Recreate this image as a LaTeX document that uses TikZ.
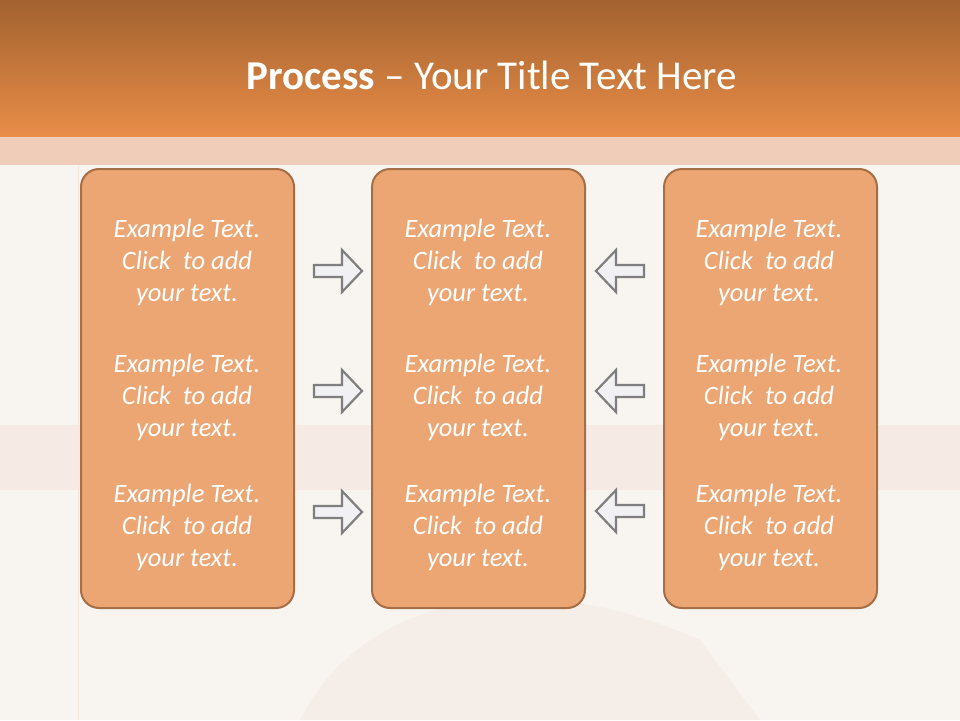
\documentclass[tikz,border=0pt]{standalone}
\usepackage{fontspec}
\setmainfont{Carlito}
\definecolor{cream}{HTML}{F8F4EF}
\definecolor{ribbon}{HTML}{F4E8E0}
\definecolor{titletop}{HTML}{A2622F}
\definecolor{titlebot}{HTML}{E98D48}
\definecolor{band}{HTML}{F0CDB8}
\definecolor{boxfill}{HTML}{ECA673}
\definecolor{boxline}{HTML}{A66E45}
\definecolor{arrfill}{HTML}{F1F1F4}
\definecolor{arrline}{HTML}{7F7F7F}
\tikzset{
  panel/.style={draw=boxline, line width=2pt, fill=boxfill, rounded corners=18pt,
    minimum width=213pt, minimum height=439pt, anchor=north west, inner sep=0pt},
  exampletext/.style={text=white, align=center, font=\fontsize{26.5}{32}\selectfont\itshape},
  arr/.style={draw=arrline, fill=arrfill, line width=2.2pt, line join=miter},
  blockarrow/.pic={\draw[arr] (0,-6) -- (28,-6) -- (28,-21) -- (48,0) -- (28,21) -- (28,6) -- (0,6) -- cycle;}
}
\begin{document}
\begin{tikzpicture}[x=1pt,y=-1pt]
\useasboundingbox (0,0) rectangle (960,720);
\fill[cream] (0,0) rectangle (960,720);
% faint background ribbons
\fill[ribbon, opacity=0.7] (0,425) rectangle (960,490);
\fill[ribbon, opacity=0.5] (300,720) .. controls (360,600) and (520,560) .. (700,640) -- (760,720) -- cycle;
\draw[ribbon, line width=1pt] (78,165) -- (78,720);
% title
\shade[top color=titletop, bottom color=titlebot] (0,0) rectangle (960,137);
\fill[band] (0,137) rectangle (960,165);
\node[text=white, font=\fontsize{41}{44}\selectfont] (title) at (492,75)
  {\textbf{Process} – Your Title Text Here};
% panels
\node[panel] (left) at (80,168) {};
\node[panel] (mid) at (371,168) {};
\node[panel] (right) at (663,168) {};
\foreach \p/\cx in {l/187, m/478, r/769}{
  \node[exampletext] (\p1) at (\cx,262) {Example Text.\\Click\ \ to add\\your text.};
  \node[exampletext] (\p2) at (\cx,397) {Example Text.\\Click\ \ to add\\your text.};
  \node[exampletext] (\p3) at (\cx,527) {Example Text.\\Click\ \ to add\\your text.};
}
% arrows
\pic (ra1) at (314,271) {blockarrow};
\pic (ra2) at (314,391) {blockarrow};
\pic (ra3) at (314,512) {blockarrow};
\pic[xscale=-1] (la1) at (644,271) {blockarrow};
\pic[xscale=-1] (la2) at (644,391) {blockarrow};
\pic[xscale=-1] (la3) at (644,511) {blockarrow};
\end{tikzpicture}
\end{document}
